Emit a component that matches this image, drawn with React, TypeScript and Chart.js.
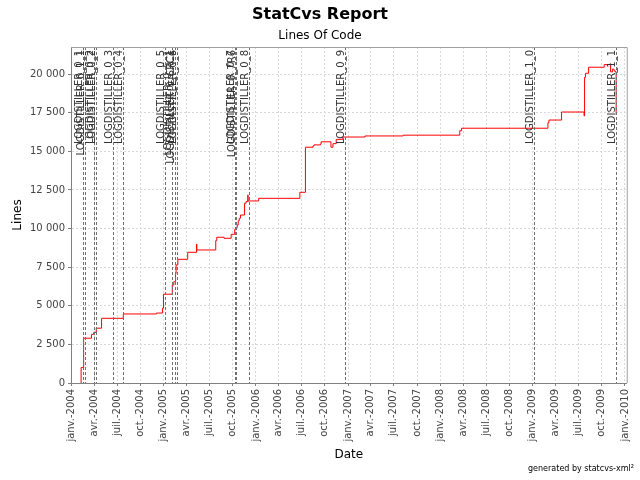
import { useEffect, useRef } from 'react';
import { Chart, registerables } from 'chart.js';

Chart.register(...registerables);

// Lines of code: each entry is the date of a change and the new line count
const changeDates = [
  '2004-02-09', '2004-02-09', '2004-02-19', '2004-03-21', '2004-03-30', '2004-04-09', '2004-04-30',
  '2004-07-25', '2004-12-03', '2004-12-27', '2004-12-31', '2005-02-04', '2005-02-10', '2005-02-17',
  '2005-02-19', '2005-02-26', '2005-04-06', '2005-05-11', '2005-05-12', '2005-07-26', '2005-07-30',
  '2005-08-28', '2005-09-25', '2005-10-09', '2005-10-13', '2005-10-19', '2005-10-23', '2005-10-27',
  '2005-11-01', '2005-11-17', '2005-11-23', '2005-11-30', '2005-12-01', '2006-01-12', '2006-06-24',
  '2006-07-16', '2006-08-15', '2006-08-19', '2006-09-14', '2006-09-16', '2006-10-25', '2006-11-02',
  '2006-11-15', '2006-12-11', '2007-03-09', '2007-08-07', '2008-03-18', '2008-03-25', '2009-03-02',
  '2009-03-06', '2009-04-25', '2009-07-23', '2009-07-25', '2009-07-29', '2009-08-10', '2009-10-11',
  '2009-11-03', '2009-11-05', '2009-11-13', '2009-11-18', '2009-11-22', '2009-11-27',
];
const linesOfCode = [
  0, 1000, 2900, 3150, 3280, 3550, 4190,
  4470, 4530, 4840, 5750, 6350, 6560, 7100,
  7640, 8010, 8465, 9000, 8615, 9220, 9440,
  9370, 9630, 9955, 10060, 10230, 10510, 10670,
  10880, 11640, 11750, 12180, 11790, 11960, 12350,
  15270, 15350, 15420, 15480, 15620, 15270, 15500,
  15780, 15930, 16000, 16050, 16340, 16500, 16860,
  17030, 17550, 17300, 19800, 20060, 20450, 20620,
  20680, 20150, 20330, 20250, 20160, 17360,
];

// Release tags
const markerDates = [
  '2004-02-17', '2004-02-23', '2004-04-02', '2004-04-08', '2004-06-16', '2004-07-25',
  '2005-01-08', '2005-02-02', '2005-02-13', '2005-02-22', '2005-10-10', '2005-10-16',
  '2005-12-06', '2006-12-20', '2009-01-04', '2009-11-27',
];
const markerNames = [
  'LOGDISTILLER_0_1', 'LOGDISTILLER_0_1_1', 'LOGDISTILLER_0_2', 'LOGDISTILLER_0_2', 'LOGDISTILLER_0_3',
  'LOGDISTILLER_0_4', 'LOGDISTILLER_0_5', 'LOGDISTILLER_0_5_1', 'LOGDISTILLER_0_6RC1', 'LOGDISTILLER_0_6',
  'LOGDISTILLER_0_7', 'LOGDISTILLER_0_7R6', 'LOGDISTILLER_0_8', 'LOGDISTILLER_0_9', 'LOGDISTILLER_1_0',
  'LOGDISTILLER_1_1',
];

const xTickDates = [
  '2004-01-01', '2004-04-01', '2004-07-01', '2004-10-01',
  '2005-01-01', '2005-04-01', '2005-07-01', '2005-10-01',
  '2006-01-01', '2006-04-01', '2006-07-01', '2006-10-01',
  '2007-01-01', '2007-04-01', '2007-07-01', '2007-10-01',
  '2008-01-01', '2008-04-01', '2008-07-01', '2008-10-01',
  '2009-01-01', '2009-04-01', '2009-07-01', '2009-10-01',
  '2010-01-01',
];
const xTickLabels = [
  'janv.-2004', 'avr.-2004', 'juil.-2004', 'oct.-2004',
  'janv.-2005', 'avr.-2005', 'juil.-2005', 'oct.-2005',
  'janv.-2006', 'avr.-2006', 'juil.-2006', 'oct.-2006',
  'janv.-2007', 'avr.-2007', 'juil.-2007', 'oct.-2007',
  'janv.-2008', 'avr.-2008', 'juil.-2008', 'oct.-2008',
  'janv.-2009', 'avr.-2009', 'juil.-2009', 'oct.-2009',
  'janv.-2010',
];
const yTickValues = [0, 2500, 5000, 7500, 10000, 12500, 15000, 17500, 20000];
const yTickLabels = ['0', '2 500', '5 000', '7 500', '10 000', '12 500', '15 000', '17 500', '20 000'];

const xRange = ['2003-12-31', '2010-01-08'];
const yRange = [0, 21760];

const chartTitle = 'StatCvs Report';
const chartSubtitle = 'Lines Of Code';
const xAxisTitle = 'Date';
const yAxisTitle = 'Lines';
const footerText = 'generated by statcvs-xml²';

const toMs = (d: string) => new Date(d + 'T00:00:00Z').getTime();

const FONT = '"DejaVu Sans", sans-serif';

export default function App() {
  const canvasRef = useRef<HTMLCanvasElement | null>(null);

  useEffect(() => {
    const canvas = canvasRef.current;
    if (!canvas) return;

    const points = changeDates.map((d, i) => ({ x: toMs(d), y: linesOfCode[i] }));
    const xTickMs = xTickDates.map(toMs);
    const markerMs = markerDates.map(toMs);

    const decor = {
      id: 'decor',
      beforeDraw(chart: any) {
        const ctx = chart.ctx;
        ctx.save();
        ctx.fillStyle = '#ffffff';
        ctx.fillRect(0, 0, chart.width, chart.height);
        ctx.restore();
      },
      afterDatasetsDraw(chart: any) {
        const { ctx, chartArea: a, scales } = chart;
        const x = scales.x;
        ctx.save();
        ctx.beginPath();
        ctx.rect(a.left, a.top, a.right - a.left, a.bottom - a.top);
        ctx.clip();
        markerMs.forEach((m: number, i: number) => {
          const px = Math.round(x.getPixelForValue(m)) + 0.5;
          ctx.save();
          ctx.strokeStyle = '#707070';
          ctx.lineWidth = 1;
          ctx.setLineDash([3, 2]);
          ctx.beginPath();
          ctx.moveTo(px, a.top);
          ctx.lineTo(px, a.bottom);
          ctx.stroke();
          ctx.restore();
          ctx.save();
          ctx.translate(px - 2, a.top + 3);
          ctx.rotate(-Math.PI / 2);
          ctx.textAlign = 'right';
          ctx.textBaseline = 'alphabetic';
          ctx.fillStyle = '#333333';
          ctx.font = '10px ' + FONT;
          ctx.fillText(markerNames[i], 0, 0);
          ctx.restore();
        });
        ctx.restore();
      },
      afterDraw(chart: any) {
        const { ctx, chartArea: a } = chart;
        ctx.save();
        // plot outline (top & right)
        ctx.strokeStyle = '#a0a0a0';
        ctx.lineWidth = 1;
        ctx.beginPath();
        ctx.moveTo(a.left, a.top + 0.5);
        ctx.lineTo(a.right + 0.5, a.top + 0.5);
        ctx.lineTo(a.right + 0.5, a.bottom);
        ctx.stroke();

        ctx.fillStyle = '#000000';
        ctx.textAlign = 'center';
        ctx.textBaseline = 'middle';
        ctx.font = 'bold 16px ' + FONT;
        ctx.fillText(chartTitle, 320, 15);
        ctx.font = '12px ' + FONT;
        ctx.fillText(chartSubtitle, 320, 36);
        ctx.fillText(xAxisTitle, (a.left + a.right) / 2, 455);
        ctx.save();
        ctx.translate(18, (a.top + a.bottom) / 2);
        ctx.rotate(-Math.PI / 2);
        ctx.fillText(yAxisTitle, 0, 0);
        ctx.restore();
        // footer, fitted to the reference width
        ctx.font = '9px ' + FONT;
        const w = ctx.measureText(footerText).width;
        const target = 106;
        ctx.save();
        ctx.translate(634 - target, 471);
        ctx.scale(target / w, 1);
        ctx.textAlign = 'left';
        ctx.textBaseline = 'alphabetic';
        ctx.fillText(footerText, 0, 0);
        ctx.restore();
        ctx.restore();
      },
    };

    const chart = new Chart(canvas, {
      type: 'line',
      data: {
        datasets: [
          {
            label: 'Lines',
            data: points,
            stepped: 'before',
            borderColor: '#ff0000',
            borderWidth: 1,
            pointRadius: 0,
            fill: false,
          } as any,
        ],
      },
      options: {
        animation: false,
        responsive: false,
        devicePixelRatio: 1,
        layout: { padding: { left: 0, top: 47, right: 8, bottom: 0 } },
        plugins: {
          legend: { display: false },
          tooltip: { enabled: false },
          title: { display: false },
        },
        scales: {
          x: {
            type: 'linear',
            position: 'bottom',
            min: toMs(xRange[0]),
            max: toMs(xRange[1]),
            afterBuildTicks: (s: any) => {
              s.ticks = xTickMs.map((v) => ({ value: v }));
            },
            afterFit: (s: any) => {
              s.height = 97;
            },
            ticks: {
              autoSkip: false,
              minRotation: 90,
              maxRotation: 90,
              padding: 3,
              color: '#444444',
              font: { family: FONT, size: 10 },
              callback: (_v: any, i: number) => xTickLabels[i],
            },
            grid: {
              color: '#d8d8d8',
              lineWidth: 1,
              tickLength: 3,
              tickColor: '#808080',
            },
            border: { color: '#808080', width: 1, dash: [2, 2] },
          },
          y: {
            type: 'linear',
            min: yRange[0],
            max: yRange[1],
            afterBuildTicks: (s: any) => {
              s.ticks = yTickValues.map((v) => ({ value: v }));
            },
            afterFit: (s: any) => {
              s.width = 71;
            },
            ticks: {
              padding: 3,
              color: '#444444',
              font: { family: FONT, size: 10 },
              callback: (_v: any, i: number) => yTickLabels[i],
            },
            grid: {
              color: '#d8d8d8',
              lineWidth: 1,
              tickLength: 3,
              tickColor: '#808080',
            },
            border: { color: '#808080', width: 1, dash: [2, 2] },
          },
        },
      },
      plugins: [decor],
    });

    return () => {
      chart.destroy();
    };
  }, []);

  return (
    <div style={{ position: 'absolute', left: 0, top: 0, width: 640, height: 480, background: '#fff' }}>
      <canvas ref={canvasRef} width={640} height={480} style={{ width: 640, height: 480, display: 'block' }} />
    </div>
  );
}
